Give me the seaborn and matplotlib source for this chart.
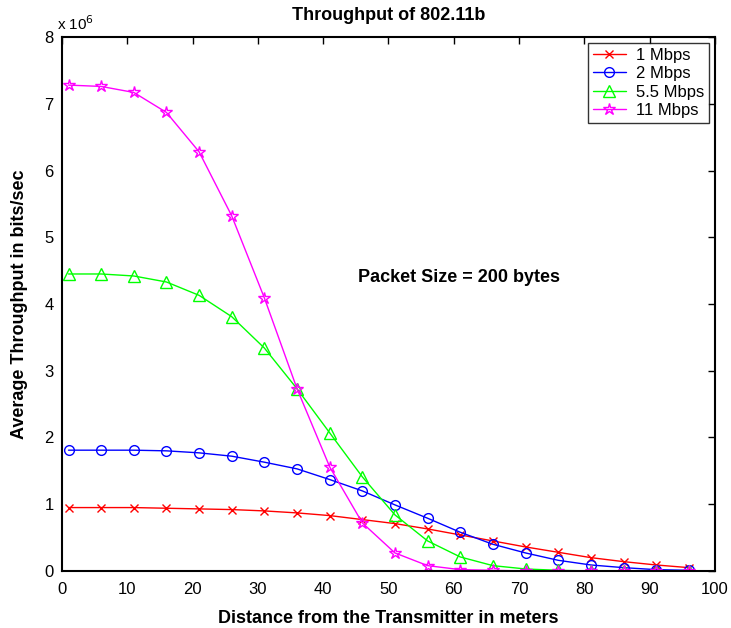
import matplotlib
matplotlib.use("Agg")
import matplotlib.pyplot as plt
import seaborn as sns
import pandas as pd

distance = [1, 6, 11, 16, 21, 26, 31, 36, 41, 46, 51, 56, 61, 66, 71, 76, 81, 86, 91, 96]
# throughput in units of 10^6 bits/sec
tp_1 = [0.95, 0.95, 0.95, 0.94, 0.93, 0.92, 0.90, 0.87, 0.83, 0.77, 0.71, 0.63, 0.54, 0.45, 0.36, 0.28, 0.20, 0.14, 0.09, 0.05]
tp_2 = [1.81, 1.81, 1.81, 1.80, 1.77, 1.72, 1.63, 1.53, 1.37, 1.20, 0.99, 0.79, 0.58, 0.40, 0.27, 0.16, 0.09, 0.05, 0.02, 0.01]
tp_55 = [4.45, 4.45, 4.42, 4.33, 4.13, 3.81, 3.34, 2.73, 2.07, 1.41, 0.84, 0.45, 0.21, 0.08, 0.03, 0.01, 0.0, 0.0, 0.0, 0.0]
tp_11 = [7.28, 7.26, 7.17, 6.87, 6.28, 5.32, 4.09, 2.73, 1.56, 0.72, 0.27, 0.08, 0.02, 0.01, 0.0, 0.0, 0.0, 0.0, 0.0, 0.0]
labels = ["1 Mbps", "2 Mbps", "5.5 Mbps", "11 Mbps"]
series = [tp_1, tp_2, tp_55, tp_11]
colors = ["#ff0000", "#0000ff", "#00ff00", "#ff00ff"]
markers = ["x", "o", "^", "*"]
msizes = [6, 7, 8, 9]

sns.set_style("white")
plt.rcParams['font.family'] = ['Liberation Sans', 'DejaVu Sans']
plt.rcParams['text.color'] = 'black'
plt.rcParams['axes.labelcolor'] = 'black'
plt.rcParams['xtick.color'] = 'black'
plt.rcParams['ytick.color'] = 'black'

fig = plt.figure(figsize=(7.31, 6.28), dpi=100)
ax = fig.add_axes([0.0848, 0.0908, 0.8932, 0.8502])

for lab, vals, c, m, ms in zip(labels, series, colors, markers, msizes):
    df = pd.DataFrame({"d": distance, "t": vals})
    sns.lineplot(data=df, x="d", y="t", ax=ax, color=c, marker=m, markersize=ms,
                 mfc="none", mec=c, mew=1.0, linewidth=1.0, label=lab)

ax.set_xlim(0, 100)
ax.set_ylim(0, 8)
ax.set_xticks(range(0, 101, 10))
ax.set_yticks(range(0, 9))
ax.tick_params(direction="in", length=5, width=1, labelsize=12, top=True, right=True,
               colors="black", labelcolor="black")
ax.tick_params(axis="x", pad=8)
ax.tick_params(axis="y", pad=6)
for s in ax.spines.values():
    s.set_visible(True)
    s.set_color("black")
    s.set_linewidth(1.5)

ax.set_xlabel("Distance from the Transmitter in meters", fontsize=13, fontweight="bold", labelpad=9, color="black")
ax.set_ylabel("Average Throughput in bits/sec", fontsize=13, fontweight="bold", labelpad=12, color="black")
ax.set_title("Throughput of 802.11b", fontsize=13, fontweight="bold", pad=12, color="black")
ax.text(-0.008, 1.008, r"x 10$^6$", transform=ax.transAxes, fontsize=11, ha="left", va="bottom", color="black")
ax.text(45.3, 4.4, "Packet Size = 200 bytes", fontsize=13, fontweight="bold", ha="left", va="center", color="black")

leg = ax.legend(loc="upper right", fontsize=12, frameon=True, fancybox=False, edgecolor="black",
                borderaxespad=0.35, handlelength=2.0, handletextpad=0.6, labelspacing=0.2, borderpad=0.3)
leg.get_frame().set_linewidth(1.0)
for t in leg.get_texts():
    t.set_color("black")

fig.savefig("out.png", dpi=100)
